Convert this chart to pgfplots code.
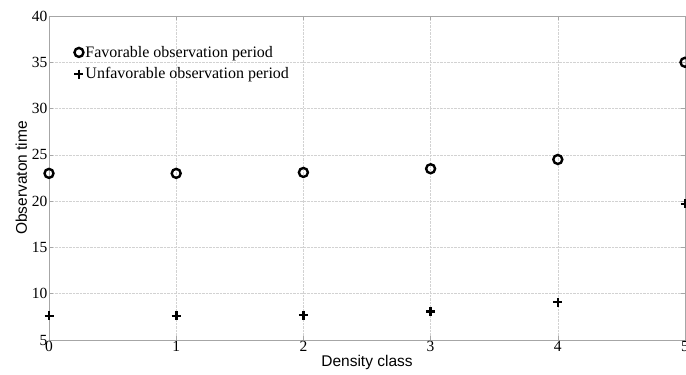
\documentclass[border=0pt]{standalone}
\usepackage{pgfplots}
\pgfplotsset{compat=1.18}
\usepackage{fontspec}
\setmainfont{Liberation Serif}
\newfontfamily\arialfont{Liberation Sans}
\begin{document}
\begin{tikzpicture}
\begin{axis}[
  scale only axis,
  width=636pt, height=324pt,
  xmin=0, xmax=5, ymin=5, ymax=40,
  xtick={0,1,2,3,4,5}, ytick={5,10,...,40},
  /pgf/number format/assume math mode=true,
  tick label style={font=\fontsize{15.5}{15.5}\selectfont},
  grid=major,
  grid style={gray!35, densely dotted, line width=0.5pt},
  axis line style={gray!70, line width=0.8pt},
  tick style={gray!70, line width=0.5pt},
  tick align=inside,
  major tick length=4pt,
  xlabel={\arialfont\fontsize{15.5}{15.5}\selectfont Density class},
  ylabel={\arialfont\fontsize{15.5}{15.5}\selectfont Observaton time},
  xlabel style={yshift=4pt},
  ylabel style={yshift=-2pt},
  xticklabel style={yshift=2pt},
  yticklabel style={xshift=2pt},
  clip=false,
  legend style={draw=none, fill=none, at={(rel axis cs:0.035,0.92)}, anchor=north west,
    font=\fontsize{16}{17}\selectfont, row sep=5pt},
  legend cell align=left,
]
\addplot[only marks, mark=o, mark size=4.5pt, line width=2.4pt, black]
  coordinates {(0,23.0) (1,23.0) (2,23.1) (3,23.5) (4,24.5) (5,35.0)};
\addlegendentry{Favorable observation period}
\addplot[only marks, mark=+, mark size=4.5pt, line width=2.6pt, black]
  coordinates {(0,7.6) (1,7.6) (2,7.7) (3,8.1) (4,9.1) (5,19.7)};
\addlegendentry{Unfavorable observation period}
\end{axis}
\pgfresetboundingbox
\path[use as bounding box] ([xshift=-49pt,yshift=-34pt]current axis.south west) rectangle ([xshift=1pt,yshift=16pt]current axis.north east);
\end{tikzpicture}
\end{document}
